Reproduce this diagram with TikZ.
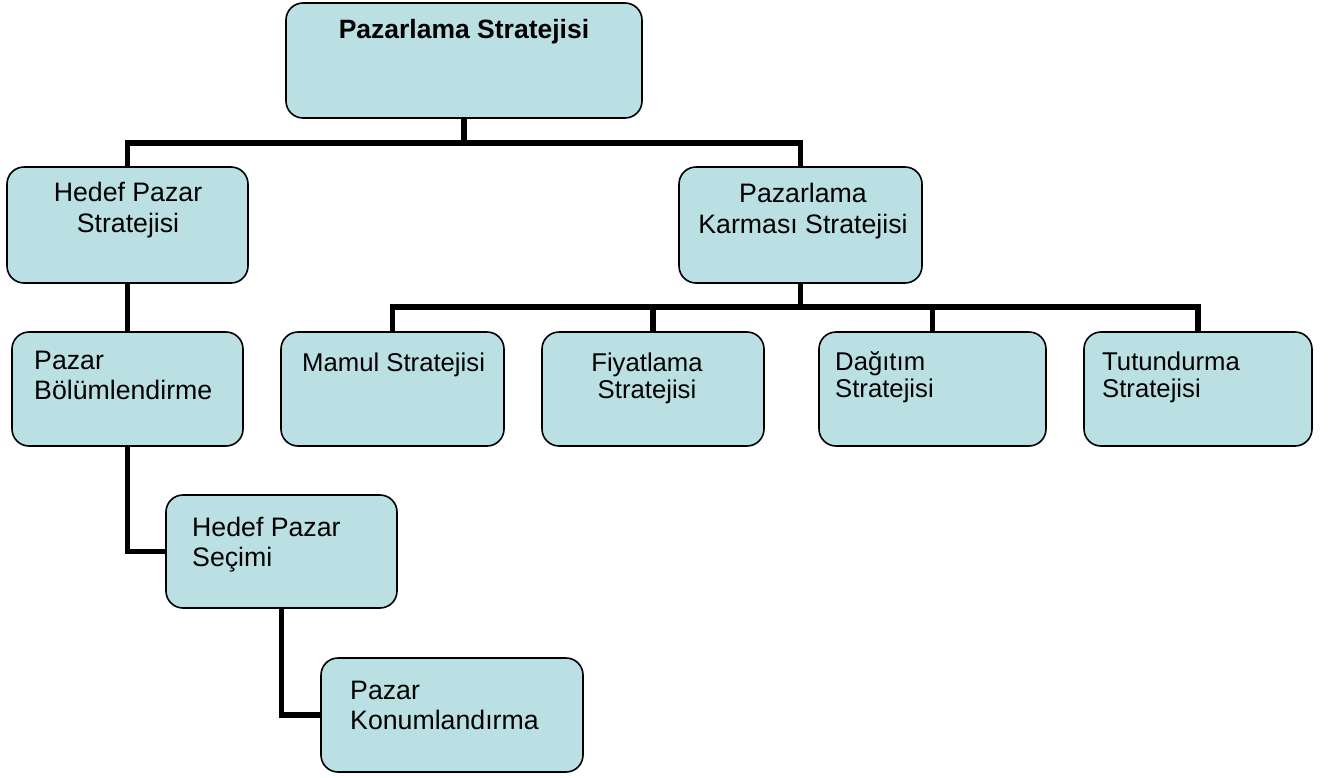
\documentclass[tikz,border=0pt]{standalone}
\usepackage{fontspec}
\setmainfont{Liberation Sans}
\usetikzlibrary{backgrounds}
\definecolor{boxfill}{HTML}{BBE0E3}
\tikzset{
  box/.style={draw=black, line width=1.6pt, fill=boxfill, rounded corners=17pt,
    rectangle, inner sep=0pt},
  conn/.style={draw=black, line width=5.5pt, line join=miter},
  txtc/.style={anchor=north, inner sep=0pt, align=center, font=\fontsize{26.7}{31}\selectfont},
  txtl/.style={anchor=north west, inner sep=0pt, align=left, font=\fontsize{26.7}{30}\selectfont},
  txts/.style={inner sep=0pt, font=\fontsize{25.7}{27}\selectfont},
}
\begin{document}
\begin{tikzpicture}[x=1pt,y=-1pt]
\useasboundingbox (0,0) rectangle (1331,777);
% boxes
\node[box, minimum width=356pt, minimum height=115pt] (top) at (464,60.5) {};
\node[box, minimum width=241pt, minimum height=116pt] (hps) at (127.5,225) {};
\node[box, minimum width=243pt, minimum height=116pt] (pks) at (800.5,225) {};
\node[box, minimum width=231pt, minimum height=114pt] (pb) at (127.5,389) {};
\node[box, minimum width=223pt, minimum height=114pt] (mam) at (392.5,389) {};
\node[box, minimum width=222pt, minimum height=114pt] (fiy) at (653,389) {};
\node[box, minimum width=227pt, minimum height=114pt] (dag) at (932.5,389) {};
\node[box, minimum width=228pt, minimum height=114pt] (tut) at (1198,389) {};
\node[box, minimum width=231pt, minimum height=113pt] (hs) at (281.5,551.5) {};
\node[box, minimum width=262pt, minimum height=114pt] (pk) at (452,715) {};
% junctions
\coordinate (j1) at (464,143);
\coordinate (j2) at (800.5,307);
\begin{pgfonlayer}{background}
\draw[conn] (top.south) -- (j1);
\draw[conn] (hps.north) |- (j1) -| (pks.north);
\draw[conn] (pks.south) -- (j2);
\draw[conn] (mam.north) |- (j2) -| (tut.north);
\draw[conn] (fiy.north) -- (fiy.north |- j2);
\draw[conn] (dag.north) -- (dag.north |- j2);
\draw[conn] (hps.south) -- (pb.north);
\draw[conn] (pb.south) |- (hs.west);
\draw[conn] (hs.south) |- (pk.west);
\end{pgfonlayer}
% texts
\node[anchor=north, inner sep=0pt, font=\fontsize{26.5}{31}\selectfont\bfseries] (top-t) at (464,19) {Pazarlama Stratejisi};
\node[txtc] (hps-t) at (128,182) {Hedef Pazar\\Stratejisi};
\node[txtc] (pks-t) at (803,183) {Pazarlama\\Karması Stratejisi};
\node[txtl] (pb-t) at (34,351) {Pazar\\Bölümlendirme};
\node[txtl] (hs-t) at (192,516.5) {Hedef Pazar\\Seçimi};
\node[txtl] (pk-t) at (350,681) {Pazar\\Konumlandırma};
\node[txts, anchor=north west, align=left] (mam-t) at (302,352.5) {Mamul Stratejisi};
\node[txts, anchor=north, align=center] (fiy-t) at (647,352.5) {Fiyatlama\\Stratejisi};
\node[txts, anchor=north west, align=left] (dag-t) at (835,351.5) {Dağıtım\\Stratejisi};
\node[txts, anchor=north west, align=left] (tut-t) at (1102,351.5) {Tutundurma\\Stratejisi};
\end{tikzpicture}
\end{document}
